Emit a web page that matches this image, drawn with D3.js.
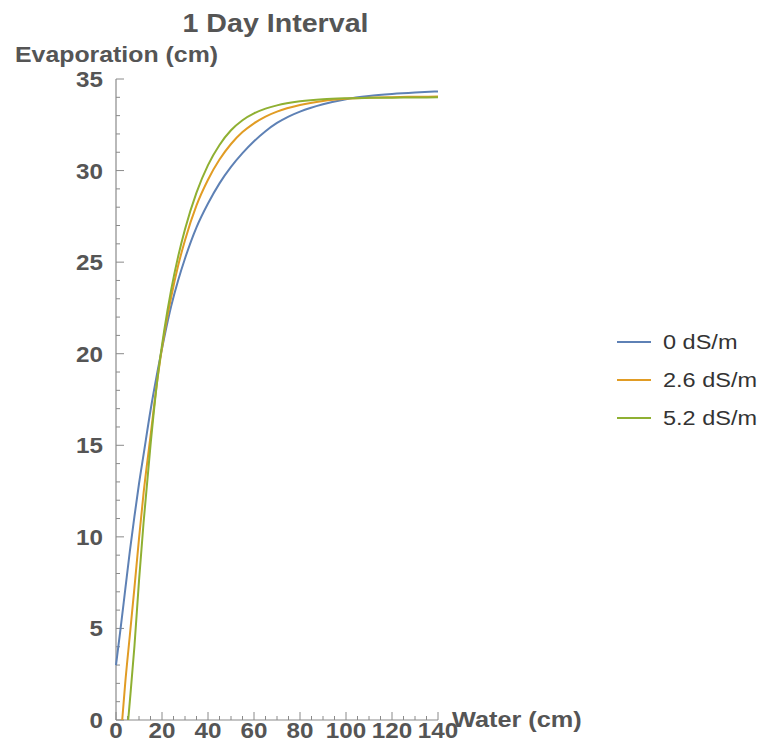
<!DOCTYPE html>
<html>
<head>
<meta charset="utf-8">
<script src="https://cdn.jsdelivr.net/npm/d3@7"></script>
<style>
  body { margin: 0; background: #fff; }
  svg { font-family: "Liberation Sans", Arial, sans-serif; }
</style>
</head>
<body>
<div id="chart"></div>
<script>
// values
const seriesNames = ['0 dS/m', '2.6 dS/m', '5.2 dS/m'];
const seriesColors = ['#5e81b5', '#e19c24', '#8fb032'];

const water0 = [0, 2, 4, 6, 8, 10, 12, 15, 18, 21, 24, 27, 30, 35, 40, 45, 50, 55, 60, 65, 70, 75, 80, 90, 100, 110, 120, 130, 140];
const evap0 = [3.0, 5.0, 7.1, 9.2, 11.1, 12.9, 14.5, 16.9, 19.0, 20.9, 22.6, 24.0, 25.2, 26.9, 28.2, 29.3, 30.2, 30.95, 31.6, 32.15, 32.6, 32.95, 33.22, 33.62, 33.9, 34.07, 34.18, 34.26, 34.32];

const water26 = [2.7, 4, 6, 8, 10, 12, 15, 18, 21, 24, 27, 30, 35, 40, 45, 50, 55, 60, 65, 70, 80, 90, 100, 110, 120, 130, 140];
const evap26 = [0, 2.0, 4.6, 7.2, 9.9, 12.4, 15.5, 18.6, 21.1, 23.1, 24.8, 26.2, 28.1, 29.5, 30.6, 31.45, 32.1, 32.58, 32.95, 33.22, 33.58, 33.8, 33.92, 33.98, 34.01, 34.03, 34.04];

const water52 = [5.3, 6, 8, 10, 12, 15, 18, 21, 24, 27, 30, 35, 40, 45, 50, 55, 60, 65, 70, 80, 90, 100, 110, 120, 130, 140];
const evap52 = [0, 1.0, 4.0, 7.6, 10.8, 15.0, 18.6, 21.3, 23.5, 25.3, 26.8, 28.8, 30.3, 31.4, 32.2, 32.75, 33.12, 33.38, 33.56, 33.78, 33.9, 33.95, 33.97, 33.98, 33.99, 34.0];

const xTicks = [0, 20, 40, 60, 80, 100, 120, 140];
const yTicks = [0, 5, 10, 15, 20, 25, 30, 35];

const series = [
  { name: seriesNames[0], color: seriesColors[0], xs: water0, ys: evap0 },
  { name: seriesNames[1], color: seriesColors[1], xs: water26, ys: evap26 },
  { name: seriesNames[2], color: seriesColors[2], xs: water52, ys: evap52 }
];

const width = 761, height = 752;
const margin = { top: 79, right: 323, bottom: 32, left: 116 };
const chartWidth = width - margin.left - margin.right;
const chartHeight = height - margin.top - margin.bottom;

const axisColor = '#8a8a8a';
const textColor = '#555';

const svg = d3.select('#chart').append('svg')
  .attr('width', width)
  .attr('height', height);

// the source picture's lettering is a bit wider than Arial, so stretch it
function label(parent, str, x, y, size, sx, opts = {}) {
  return parent.append('text')
    .text(str)
    .attr('transform', `translate(${x},${y}) scale(${sx},1)`)
    .attr('text-anchor', opts.anchor || 'start')
    .style('font-size', size + 'px')
    .style('font-weight', opts.weight || 'bold')
    .style('fill', opts.fill || textColor);
}

label(svg, '1 Day Interval', 275.5, 32, 26, 1.1, { anchor: 'middle' });
label(svg, 'Evaporation (cm)', 15, 62, 22, 1.13);

const g = svg.append('g')
  .attr('transform', `translate(${margin.left},${margin.top})`);

const x = d3.scaleLinear().domain([0, 140]).range([0, chartWidth]);
const y = d3.scaleLinear().domain([0, 35]).range([chartHeight, 0]);

// minor ticks
const minorX = d3.range(0, 141, 5).filter(d => d % 20 !== 0);
const minorY = d3.range(0, 36, 1).filter(d => d % 5 !== 0);

g.selectAll('line.minor-x').data(minorX).enter().append('line')
  .attr('x1', d => x(d)).attr('x2', d => x(d))
  .attr('y1', chartHeight).attr('y2', chartHeight - 4)
  .style('stroke', axisColor).style('stroke-width', 1);

g.selectAll('line.minor-y').data(minorY).enter().append('line')
  .attr('y1', d => y(d)).attr('y2', d => y(d))
  .attr('x1', 0).attr('x2', 4)
  .style('stroke', axisColor).style('stroke-width', 1);

// major ticks
g.selectAll('line.major-x').data(xTicks).enter().append('line')
  .attr('x1', d => x(d)).attr('x2', d => x(d))
  .attr('y1', chartHeight).attr('y2', chartHeight - 8)
  .style('stroke', axisColor).style('stroke-width', 1);

g.selectAll('line.major-y').data(yTicks).enter().append('line')
  .attr('y1', d => y(d)).attr('y2', d => y(d))
  .attr('x1', 0).attr('x2', 8)
  .style('stroke', axisColor).style('stroke-width', 1);

// axis lines
g.append('line')
  .attr('x1', 0).attr('x2', 0).attr('y1', 0).attr('y2', chartHeight)
  .style('stroke', axisColor).style('stroke-width', 1.2);
g.append('line')
  .attr('x1', 0).attr('x2', chartWidth).attr('y1', chartHeight).attr('y2', chartHeight)
  .style('stroke', axisColor).style('stroke-width', 1.2);

// tick labels
xTicks.forEach(d => label(g, d, x(d), chartHeight + 18, 22, 1.1, { anchor: 'middle' }));
yTicks.forEach(d => label(g, d, -13, y(d) + 8, 22, 1.1, { anchor: 'end' }));

label(g, 'Water (cm)', chartWidth + 14, chartHeight + 7, 22, 1.15);

// curves
const line = d3.line()
  .x(d => x(d[0]))
  .y(d => y(d[1]))
  .curve(d3.curveMonotoneX);

series.forEach(s => {
  const pts = s.xs.map((v, i) => [v, s.ys[i]]);
  g.append('path')
    .datum(pts)
    .attr('d', line)
    .style('fill', 'none')
    .style('stroke', s.color)
    .style('stroke-width', 2);
});

// legend
const legend = svg.append('g').attr('transform', 'translate(617,342)');
series.forEach((s, i) => {
  const row = legend.append('g').attr('transform', `translate(0,${i * 38})`);
  row.append('line')
    .attr('x1', 0).attr('x2', 34).attr('y1', 0).attr('y2', 0)
    .style('stroke', s.color).style('stroke-width', 2);
  label(row, s.name, 46, 7, 21, 1.12, { weight: 'normal', fill: '#333' });
});
</script>
</body>
</html>
